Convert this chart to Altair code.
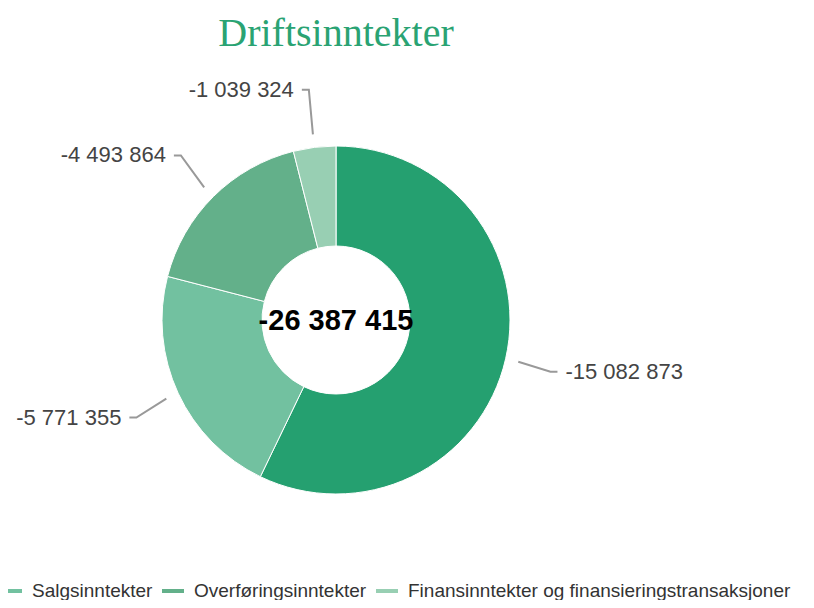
import altair as alt
import pandas as pd

TITLE = "Driftsinntekter"
categories = [
    "Andre driftsinntekter",
    "Salgsinntekter",
    "Overføringsinntekter",
    "Finansinntekter og finansieringstransaksjoner",
]
values = [-15082873, -5771355, -4493864, -1039324]
colors = ["#25a070", "#72c1a0", "#63b08a", "#98cfb3"]
legend_items = ["Salgsinntekter", "Overføringsinntekter", "Finansinntekter og finansieringstransaksjoner"]
TOTAL = -26387415

df = pd.DataFrame({"kategori": categories, "verdi": values, "rekkefolge": list(range(len(categories)))})

W, H = 798, 592
CX, CY = 328, 312
R_OUT, R_IN = 174, 74
R1 = 187
R2X, R2Y = 220, 232
HOR = 7
GAP = 8

FMT = "(datum.verdi < 0 ? '-' : '') + replace(format(abs(datum.verdi), ','), regexp(',', 'g'), ' ')"

xs = alt.X("px:Q", scale=alt.Scale(domain=[0, W], nice=False, zero=False), axis=None)
ys = alt.Y("py:Q", scale=alt.Scale(domain=[0, H], nice=False, zero=False, reverse=True), axis=None)

color = alt.Color(
    "kategori:N",
    scale=alt.Scale(domain=categories, range=colors),
    legend=alt.Legend(
        values=legend_items, orient="none", legendX=-8, legendY=572,
        direction="horizontal", symbolType="M-1,-0.18H1V0.18H-1Z", symbolSize=484,
        symbolStrokeWidth=0, labelFontSize=19, labelFont="Liberation Sans",
        labelColor="#333333", labelLimit=0, columnPadding=9, labelOffset=10, title=None,
    ),
)

base = alt.Chart(df).transform_calculate(abs_v="abs(datum.verdi)")

arcs = base.mark_arc(outerRadius=R_OUT, innerRadius=R_IN, stroke="white", strokeWidth=1).encode(
    theta=alt.Theta("abs_v:Q", stack=True),
    order=alt.Order("rekkefolge:Q"),
    color=color,
    x=alt.value(CX),
    y=alt.value(CY),
)

geo = (
    base.transform_joinaggregate(total="sum(abs_v)")
    .transform_window(cum="sum(abs_v)", sort=[alt.SortField("rekkefolge")], frame=[None, 0])
    .transform_calculate(mid="2*PI*(datum.cum - datum.abs_v/2)/datum.total")
    .transform_calculate(side="sin(datum.mid) >= 0 ? 1 : -1")
)

lines = (
    geo.transform_calculate(pts="[0, 1, 2]")
    .transform_flatten(["pts"])
    .transform_calculate(
        rx=f"datum.pts == 0 ? {R1} : {R2X}",
        ry=f"datum.pts == 0 ? {R1} : {R2Y}",
    )
    .transform_calculate(
        px=f"{CX} + sin(datum.mid)*datum.rx + (datum.pts == 2 ? datum.side*{HOR} : 0)",
        py=f"{CY} - cos(datum.mid)*datum.ry",
    )
    .mark_line(color="#999999", strokeWidth=2)
    .encode(x=xs, y=ys, detail="kategori:N", order="pts:Q")
)

lab = geo.transform_calculate(
    px=f"{CX} + sin(datum.mid)*{R2X} + datum.side*{HOR + GAP}",
    py=f"{CY} - cos(datum.mid)*{R2Y}",
    lbl=FMT,
)

labels_r = lab.transform_filter("datum.side > 0").mark_text(
    align="left", baseline="middle", fontSize=22, font="Liberation Sans", color="#444444"
).encode(x=xs, y=ys, text="lbl:N")
labels_l = lab.transform_filter("datum.side < 0").mark_text(
    align="right", baseline="middle", fontSize=22, font="Liberation Sans", color="#444444"
).encode(x=xs, y=ys, text="lbl:N")

center = alt.Chart(pd.DataFrame({"verdi": [TOTAL]})).transform_calculate(lbl=FMT).mark_text(
    align="center", baseline="middle", fontSize=29, fontWeight="bold", font="Liberation Sans", color="#000000"
).encode(x=alt.value(CX), y=alt.value(CY + 1), text="lbl:N")

title = alt.Chart(pd.DataFrame({"t": [TITLE]})).mark_text(
    align="center", baseline="middle", fontSize=40, font="Liberation Serif", color="#2aa373"
).encode(x=alt.value(CX), y=alt.value(26), text="t:N")

chart = (
    alt.layer(arcs, lines, labels_r, labels_l, center, title)
    .properties(width=W, height=H, padding=0, autosize=alt.AutoSizeParams(type="none"))
    .configure_view(stroke=None)
)

chart.save("out.html", embed_options={"renderer": "svg", "actions": False})
